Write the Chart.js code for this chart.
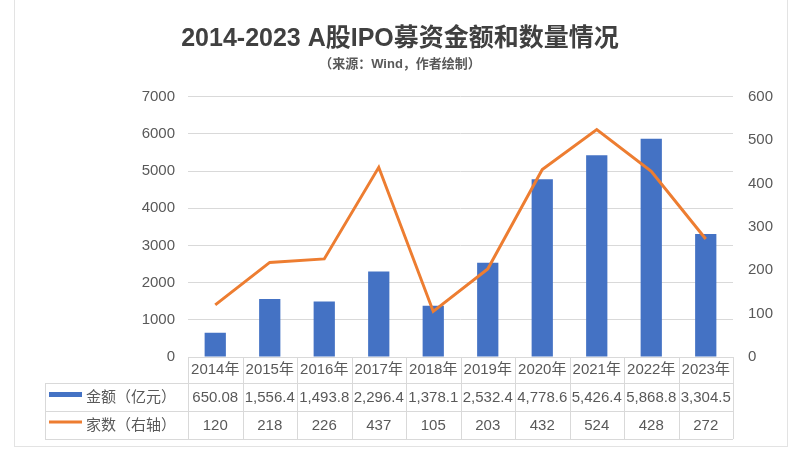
<!DOCTYPE html>
<html>
<head>
<meta charset="utf-8">
<script src="https://cdn.jsdelivr.net/npm/chart.js@4"></script>
<style>
  html, body { margin: 0; padding: 0; background: #fff; }
  #wrap { width: 800px; height: 462px; }
</style>
</head>
<body>
<div id="wrap"><canvas id="ipoChart" width="800" height="462"></canvas></div>
<script>
const years = ["2014年", "2015年", "2016年", "2017年", "2018年", "2019年", "2020年", "2021年", "2022年", "2023年"];
const amounts = [650.08, 1556.4, 1493.8, 2296.4, 1378.1, 2532.4, 4778.6, 5426.4, 5868.8, 3304.5];
const counts = [120, 218, 226, 437, 105, 203, 432, 524, 428, 272];
const seriesNames = ["金额（亿元）", "家数（右轴）"];

const FONT = "'Liberation Sans', 'Noto Sans CJK SC', sans-serif";
const TEXT = "#595959";
const GRID = "#d9d9d9";
const BLUE = "#4472C4";
const ORANGE = "#ED7D31";

const fmt = new Intl.NumberFormat("en-US", { maximumFractionDigits: 2 });

// data table under the x axis + outer frame
const tablePlugin = {
    id: "dataTable",
    afterDraw(chart) {
        const ctx = chart.ctx;
        const x = chart.scales.x;
        const area = chart.chartArea;
        const top = area.bottom + 1;
        const row1 = top + 25;
        const row2 = row1 + 28;
        const bottom = row2 + 28;
        const legendLeft = 45;
        const half = (x.getPixelForValue(1) - x.getPixelForValue(0)) / 2;

        ctx.save();
        ctx.strokeStyle = GRID;
        ctx.lineWidth = 1;
        ctx.beginPath();
        // horizontal rows
        [row1, row2, bottom].forEach(y => {
            ctx.moveTo(legendLeft, y + 0.5);
            ctx.lineTo(area.right, y + 0.5);
        });
        ctx.moveTo(legendLeft + 0.5, row1);
        ctx.lineTo(legendLeft + 0.5, bottom);
        for (let i = 0; i <= years.length; i++) {
            const px = Math.round(x.getPixelForValue(0) - half + i * half * 2) + 0.5;
            ctx.moveTo(px, top - 1);
            ctx.lineTo(px, bottom);
        }
        ctx.stroke();

        // outer frame
        ctx.strokeStyle = "#e3e3e3";
        ctx.strokeRect(14.5, -1, 773, 447.5);

        // legend keys
        ctx.fillStyle = BLUE;
        ctx.fillRect(49, 392, 33, 5);
        ctx.strokeStyle = ORANGE;
        ctx.lineWidth = 3;
        ctx.beginPath();
        ctx.moveTo(49, 422);
        ctx.lineTo(82, 422);
        ctx.stroke();

        ctx.fillStyle = TEXT;
        ctx.font = "15px " + FONT;
        ctx.textBaseline = "middle";
        ctx.textAlign = "left";
        ctx.fillText(seriesNames[0], 86, (row1 + row2) / 2 + 1);
        ctx.fillText(seriesNames[1], 86, (row2 + bottom) / 2 + 1);

        ctx.textAlign = "center";
        for (let i = 0; i < years.length; i++) {
            const cx = x.getPixelForValue(i);
            ctx.fillText(fmt.format(amounts[i]), cx, (row1 + row2) / 2 + 1);
            ctx.fillText(String(counts[i]), cx, (row2 + bottom) / 2 + 1);
        }
        ctx.restore();
    }
};

const ctx = document.getElementById("ipoChart").getContext("2d");
new Chart(ctx, {
    data: {
        labels: years,
        datasets: [
            {
                type: "line",
                label: seriesNames[1],
                data: counts,
                yAxisID: "y1",
                borderColor: ORANGE,
                borderWidth: 3,
                pointRadius: 0,
                tension: 0,
                order: 0
            },
            {
                type: "bar",
                label: seriesNames[0],
                data: amounts,
                yAxisID: "y",
                backgroundColor: BLUE,
                categoryPercentage: 1,
                barPercentage: 0.39,
                order: 1
            }
        ]
    },
    options: {
        responsive: false,
        animation: false,
        layout: { padding: { left: 0, right: 0, top: 0, bottom: 23 } },
        plugins: {
            legend: { display: false },
            tooltip: { enabled: false },
            title: {
                display: true,
                text: "2014-2023 A股IPO募资金额和数量情况",
                color: "#404040",
                font: { family: FONT, size: 25, weight: "bold" },
                padding: { top: 24, bottom: 3 }
            },
            subtitle: {
                display: true,
                text: "（来源：Wind，作者绘制）",
                color: TEXT,
                font: { family: FONT, size: 13, weight: "bold" },
                padding: { top: 0, bottom: 24 }
            }
        },
        scales: {
            x: {
                grid: { display: false, drawTicks: false },
                border: { display: true, color: GRID },
                ticks: { color: TEXT, font: { family: FONT, size: 15 }, padding: 4, maxRotation: 0 },
                afterFit(scale) { scale.height = 82; }
            },
            y: {
                position: "left",
                min: 0,
                max: 7000,
                ticks: {
                    stepSize: 1000, color: TEXT, font: { family: FONT, size: 15 }, padding: 13,
                    callback: v => String(v)
                },
                grid: { color: GRID, drawTicks: false },
                border: { display: false },
                afterFit(scale) { scale.width = 188; }
            },
            y1: {
                position: "right",
                min: 0,
                max: 600,
                ticks: {
                    stepSize: 100, color: TEXT, font: { family: FONT, size: 15 }, padding: 15,
                    callback: v => String(v)
                },
                grid: { display: false, drawTicks: false },
                border: { display: false },
                afterFit(scale) { scale.width = 67; }
            }
        }
    },
    plugins: [tablePlugin]
});
</script>
</body>
</html>
